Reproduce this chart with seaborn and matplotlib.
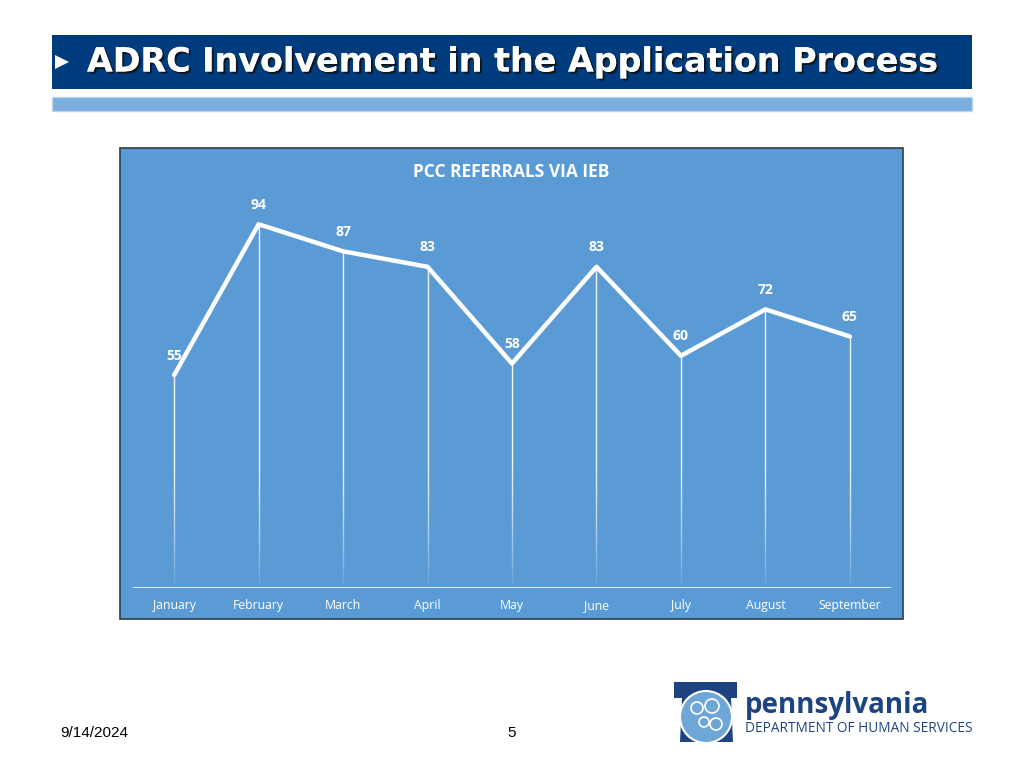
"""
PCC referrals via IEB - slide recreation
"""
import numpy as np
import matplotlib
matplotlib.use("Agg")
import matplotlib.pyplot as plt
import matplotlib.patches as mpatches
import matplotlib.patheffects as pe
import seaborn as sns

# ---- data ----
months = ["January", "February", "March", "April", "May",
          "June", "July", "August", "September"]
referrals = [55, 94, 87, 83, 58, 83, 60, 72, 65]

chart_title = "PCC REFERRALS VIA IEB"
slide_title = "ADRC Involvement in the Application Process"
slide_date = "9/14/2024"
slide_number = "5"

PANEL_BLUE = "#5B9BD5"
NAVY = "#003C7D"
LIGHT_BAR = "#7BAEDF"
LOGO_NAVY = "#1D4481"
LOGO_LIGHT = "#6FA6D8"

sns.set_theme(style="white")
plt.rcParams["font.family"] = ["Liberation Sans", "DejaVu Sans"]

fig = plt.figure(figsize=(10.24, 7.68), dpi=100)
W, H = 1024, 768


def px(x, y):
    # pixel coords (top-left origin) -> figure fraction
    return x / W, 1 - y / H


def add_patch(p, z):
    p.set_transform(fig.transFigure)
    p.set_zorder(z)
    fig.patches.append(p)


# ---- header bars ----
x0, y0 = px(52, 89)
add_patch(mpatches.Rectangle((x0, y0), 920 / W, 54 / H, facecolor=NAVY, edgecolor="none"), -2)
x0, y0 = px(52, 111)
add_patch(mpatches.Rectangle((x0, y0), 920 / W, 14 / H, facecolor=LIGHT_BAR,
                             edgecolor="#B9D5EE", lw=1), -2)
add_patch(mpatches.Polygon([px(55, 55), px(69, 62), px(55, 69)], closed=True,
                           facecolor="white", edgecolor="none"), -1)
tx, ty = px(87, 62)
fig.text(tx, ty, slide_title, color="white", fontsize=24, fontweight="bold",
         family=["DejaVu Sans"], ha="left", va="center",
         path_effects=[pe.withSimplePatchShadow(offset=(1.5, -1.5), shadow_rgbFace="#111111", alpha=0.85),
                       pe.Normal()])

# ---- chart panel ----
x0, y0 = px(120, 619)
add_patch(mpatches.Rectangle((x0, y0), 783 / W, 471 / H, facecolor=PANEL_BLUE,
                             edgecolor="#2E3B4A", lw=1.2), -2)
tx, ty = px(511, 172)
fig.text(tx, ty, chart_title, color="white", fontsize=12.5, fontweight="bold",
         family=["Open Sans", "DejaVu Sans"], ha="center", va="center")

# axes: x from 133 to 891 px, y=0 at 588 px, top at 160 px
left, bottom = px(133, 588)
ax = fig.add_axes([left, bottom, (891 - 133) / W, (588 - 160) / H])
ax.set_zorder(5)
ax.set_facecolor("none")
pos = np.arange(len(months))
xlim = (-0.487, len(months) - 1 + 0.487)
ymax = (588 - 160) / 3.87

# drop lines, faded toward the bottom
ax.vlines(pos, 0, referrals, color="white", lw=1, alpha=0.9, zorder=1)
fade = np.linspace(0, 1, 200)
rgba = np.zeros((200, 1, 4))
rgba[..., :3] = matplotlib.colors.to_rgb(PANEL_BLUE)
rgba[:, 0, 3] = fade ** 1.3 * 0.95
ax.imshow(rgba, extent=(xlim[0], xlim[1], 0, 32), origin="upper", aspect="auto",
          zorder=2, interpolation="bilinear")

sns.lineplot(x=pos, y=referrals, ax=ax, color="white", lw=3.2, zorder=3,
             solid_joinstyle="round", solid_capstyle="round")
for p, v in zip(pos, referrals):
    ax.annotate(str(v), (p, v), xytext=(0, 14), textcoords="offset points",
                ha="center", va="center", color="white", fontsize=10, fontweight="bold",
                family=["Open Sans", "DejaVu Sans"], zorder=4)

ax.axhline(0, color="white", lw=1.2, zorder=3)
ax.set_xlim(*xlim)
ax.set_ylim(0, ymax)
ax.set_xticks(pos)
ax.set_xticklabels(months, color="white", fontsize=8.8, family=["Open Sans", "DejaVu Sans"])
ax.tick_params(axis="x", length=0, pad=8)
ax.set_yticks([])
ax.set_xlabel("")
ax.set_ylabel("")
for s in ax.spines.values():
    s.set_visible(False)

# ---- logo (approximate) ----
key = [px(674, 682), px(737, 682), px(737, 698), px(731, 698), px(733, 742),
       px(680, 742), px(682, 698), px(674, 698)]
add_patch(mpatches.Polygon(key, closed=True, facecolor=LOGO_NAVY, edgecolor="none"), 1)
cx, cy = px(706, 717)
add_patch(mpatches.Ellipse((cx, cy), 52 / W, 52 / H, facecolor=LOGO_LIGHT,
                           edgecolor="white", lw=1.5), 2)
for (hx, hy, r) in [(697, 708, 6), (712, 706, 7), (704, 722, 5), (716, 724, 6)]:
    a, b = px(hx, hy)
    add_patch(mpatches.Ellipse((a, b), 2 * r / W, 2 * r / H, facecolor="none",
                               edgecolor="white", lw=1.2), 3)
tx, ty = px(745, 705)
fig.text(tx, ty, "pennsylvania", color=LOGO_NAVY, fontsize=20, fontweight="bold",
         family=["Open Sans", "DejaVu Sans"], ha="left", va="center")
tx, ty = px(745, 729)
fig.text(tx, ty, "DEPARTMENT OF HUMAN SERVICES", color=LOGO_NAVY, fontsize=9.8,
         family=["Open Sans", "DejaVu Sans"], ha="left", va="center")

# ---- footer ----
tx, ty = px(60, 733)
fig.text(tx, ty, slide_date, color="black", fontsize=11, ha="left", va="center")
tx, ty = px(512, 733)
fig.text(tx, ty, slide_number, color="black", fontsize=11, ha="center", va="center")

fig.savefig("out.png", dpi=100, facecolor="white")
